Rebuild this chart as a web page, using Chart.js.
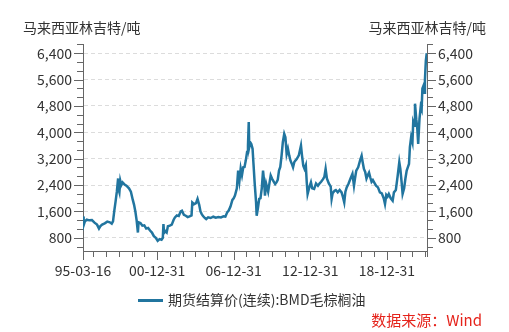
<!DOCTYPE html>
<html>
<head>
<meta charset="utf-8">
<script src="https://cdn.jsdelivr.net/npm/chart.js@4.4.1/dist/chart.umd.min.js"></script>
<style>
  html, body { margin: 0; padding: 0; background: #fff; }
  #wrap { width: 509px; height: 332px; }
</style>
</head>
<body>
<div id="wrap"><canvas id="myChart" width="509" height="332"></canvas></div>
<script>
// thời gian (năm thập phân) và giá thanh toán BMD
var thoiGian = [
  1995.20, 1995.25, 1995.35, 1995.50, 1995.70, 1995.90,
  1996.10, 1996.30, 1996.45, 1996.55, 1996.70, 1996.90,
  1997.10, 1997.30, 1997.45, 1997.55, 1997.65, 1997.75, 1997.85, 1997.95,
  1998.00, 1998.05, 1998.12, 1998.20, 1998.30, 1998.45, 1998.60, 1998.80, 1998.95,
  1999.10, 1999.20, 1999.30, 1999.40, 1999.50, 1999.55, 1999.70, 1999.85,
  2000.00, 2000.15, 2000.30, 2000.45, 2000.60, 2000.75, 2000.90,
  2001.05, 2001.20, 2001.35, 2001.45, 2001.50, 2001.55, 2001.65, 2001.75, 2001.85,
  2002.00, 2002.15, 2002.30, 2002.40, 2002.55, 2002.70, 2002.85, 2002.95,
  2003.10, 2003.25, 2003.40, 2003.55, 2003.70, 2003.76, 2003.90,
  2004.05, 2004.17, 2004.30, 2004.40, 2004.50, 2004.60, 2004.75, 2004.85,
  2005.00, 2005.20, 2005.40, 2005.60, 2005.80,
  2006.00, 2006.20, 2006.35, 2006.50, 2006.60, 2006.75, 2006.90,
  2007.00, 2007.10, 2007.25, 2007.35, 2007.45, 2007.55, 2007.65, 2007.75, 2007.85, 2007.95,
  2008.05, 2008.12, 2008.18, 2008.22, 2008.30, 2008.38, 2008.48, 2008.55, 2008.65, 2008.75, 2008.80, 2008.90,
  2009.00, 2009.10, 2009.20, 2009.30, 2009.38, 2009.45, 2009.55, 2009.70, 2009.80, 2009.90,
  2010.00, 2010.10, 2010.25, 2010.35, 2010.45, 2010.55, 2010.65, 2010.75, 2010.85, 2010.96,
  2011.05, 2011.15, 2011.25, 2011.35, 2011.45, 2011.55, 2011.65, 2011.75, 2011.85, 2011.95,
  2012.10, 2012.27, 2012.35, 2012.45, 2012.55, 2012.65, 2012.72, 2012.79, 2012.90,
  2013.05, 2013.15, 2013.30, 2013.45, 2013.60, 2013.75, 2013.85,
  2014.00, 2014.10, 2014.20, 2014.30, 2014.45, 2014.60, 2014.67, 2014.75, 2014.90,
  2015.00, 2015.15, 2015.30, 2015.45, 2015.55, 2015.66, 2015.75, 2015.85,
  2016.00, 2016.15, 2016.30, 2016.42, 2016.50, 2016.60, 2016.75, 2016.90,
  2017.02, 2017.10, 2017.20, 2017.30, 2017.40, 2017.50, 2017.60, 2017.70, 2017.80, 2017.90,
  2018.00, 2018.15, 2018.30, 2018.45, 2018.60, 2018.75, 2018.85, 2018.95,
  2019.05, 2019.15, 2019.30, 2019.45, 2019.55, 2019.70, 2019.85, 2019.97,
  2020.05, 2020.15, 2020.23, 2020.35, 2020.45, 2020.55, 2020.65, 2020.73, 2020.80, 2020.90,
  2021.00, 2021.06, 2021.15, 2021.20, 2021.30, 2021.38, 2021.45, 2021.55, 2021.65, 2021.72, 2021.78, 2021.85, 2021.92, 2021.98,
  2022.05, 2022.12
];
var giaBMD = [
  1450, 1180, 1300, 1350, 1330, 1340,
  1260, 1200, 1080, 1150, 1200, 1240,
  1290, 1270, 1230, 1300, 1620, 1900, 2200, 2600,
  2250, 2180, 2530, 2400, 2480, 2420, 2380, 2300, 2200,
  1950, 1800, 1600, 1330, 960, 1270, 1250, 1170,
  1180, 1080, 1100, 1020, 960, 850, 800,
  710, 760, 740, 800, 1220, 950, 1000, 960, 1150,
  1170, 1200, 1350, 1420, 1480, 1460, 1600, 1620,
  1500, 1470, 1430, 1450, 1480, 1870, 1820,
  1850, 1980, 1800, 1600, 1520, 1460, 1400, 1370,
  1420, 1400, 1440, 1410, 1430,
  1420, 1450, 1440, 1580, 1620, 1750, 1950,
  2000, 2080, 2300, 2840, 2530, 2900, 2700, 2940, 2950, 3150,
  3400, 3600, 4310, 3550, 3700, 3650, 3500, 3050, 2430, 1900, 1470, 1700,
  1980, 2000, 2300, 2840, 2530, 2080, 2430, 2200, 2450, 2690,
  2600, 2530, 2430, 2480, 2560, 2840, 2950, 3290, 3700, 3955,
  3850, 3345, 3500, 3300, 3140, 3050, 2940, 3100, 3150, 3195,
  3300, 3600, 3300, 2990, 2890, 3000, 2500, 2130, 2300,
  2480, 2300, 2280, 2450, 2380, 2460, 2500,
  2580, 2650, 2890, 2600, 2450, 2350, 1980, 2150, 2230,
  2250, 2180, 2250, 2180, 2050, 1875, 2200, 2330,
  2450, 2600, 2740, 2380, 2600, 2840, 2940, 3150,
  3290, 3100, 2890, 2800, 2600, 2700, 2780, 2630, 2500, 2550,
  2480, 2380, 2330, 2180, 2150, 2000, 1825, 2100,
  2050, 2130, 2000, 1925, 2180, 2250, 2700, 3095,
  2900, 2500, 2130, 2300, 2600, 2840, 2950, 3040, 3550, 3855,
  3700, 4310, 4200, 4870, 4400, 4110, 3650, 4400, 4780, 4700, 5330, 5400, 5200, 5600,
  6180, 6400
];

var viTriNhan = [1995.2, 2001.0, 2007.0, 2013.0, 2019.0];
var nhanTrucX = ['95-03-16', '00-12-31', '06-12-31', '12-12-31', '18-12-31'];
var mocTrucY = [800, 1600, 2400, 3200, 4000, 4800, 5600, 6400];
var donVi = '马来西亚林吉特/吨';
var tenChuoi = '期货结算价(连续):BMD毛棕榈油';
var nguon = '数据来源：Wind';

var FONT = '"Noto Sans CJK SC", "Noto Sans", sans-serif';
var MAU_DUONG = '#21759f';
var MAU_TRUC = '#666';

// vạch chia phụ: mỗi năm trên trục X, 1/3 khoảng trên trục Y
function tickNam() {
  var arr = [1995.2];
  for (var y = 1996; y <= 2022; y++) arr.push(y);
  arr.push(2022.14);
  return arr;
}
function tickGia() {
  var arr = [];
  for (var i = 2; i <= 25; i++) arr.push(i * 800 / 3);
  return arr;
}
function laMoc(v) {
  return mocTrucY.some(function (m) { return Math.abs(m - v) < 1; });
}
function laNhanX(v) {
  return viTriNhan.findIndex(function (m) { return Math.abs(m - v) < 0.01; });
}

var trucY = function (pos) {
  return {
    type: 'linear',
    position: pos,
    min: 400,
    max: 6680,
    afterBuildTicks: function (scale) {
      scale.ticks = tickGia().map(function (v) { return { value: v }; });
    },
    afterFit: function (scale) { scale.width = pos === 'left' ? 83 : 82; },
    grid: {
      drawOnChartArea: pos === 'left',
      drawTicks: false,
      color: function (ctx) { return ctx.tick && laMoc(ctx.tick.value) ? '#dcdcdc' : 'rgba(0,0,0,0)'; },
      lineWidth: 1
    },
    border: { display: true, color: MAU_TRUC, width: 1, dash: [4, 3] },
    ticks: {
      padding: 11,
      color: '#333',
      font: { family: FONT, size: 14 },
      autoSkip: false,
      callback: function (v) { return laMoc(v) ? Math.round(v).toLocaleString('en-US') : ''; }
    }
  };
};

var trangTri = {
  id: 'trangTri',
  afterDraw: function (chart) {
    var c = chart.ctx, a = chart.chartArea;
    var sx = chart.scales.x, yl = chart.scales.y, yr = chart.scales.y2;
    c.save();
    c.strokeStyle = MAU_TRUC;
    c.lineWidth = 1;
    c.beginPath();
    // trục trái / phải
    tickGia().forEach(function (v) {
      var py = Math.round(yl.getPixelForValue(v)) + 0.5;
      var len = laMoc(v) ? 9 : 6;
      c.moveTo(a.left - len, py); c.lineTo(a.left, py);
      c.moveTo(a.right, py); c.lineTo(a.right + len, py);
    });
    // trục X
    tickNam().forEach(function (v) {
      var px = Math.round(sx.getPixelForValue(v)) + 0.5;
      var len = laNhanX(v) >= 0 ? 9 : 6;
      c.moveTo(px, a.bottom); c.lineTo(px, a.bottom + len);
    });
    c.stroke();

    // đơn vị hai trục
    c.fillStyle = '#333';
    c.font = '14px ' + FONT;
    c.textBaseline = 'middle';
    c.textAlign = 'left';
    c.fillText(donVi, 23, 28);
    c.textAlign = 'right';
    c.fillText(donVi, 486, 28);

    // chú giải
    c.strokeStyle = MAU_DUONG;
    c.lineWidth = 3;
    c.beginPath();
    c.moveTo(138, 300.5); c.lineTo(163, 300.5);
    c.stroke();
    c.fillStyle = '#333';
    c.textAlign = 'left';
    c.fillText(tenChuoi, 168, 300);

    // nguồn dữ liệu
    c.fillStyle = '#e5231b';
    c.font = '15px ' + FONT;
    c.textAlign = 'right';
    c.fillText(nguon, 482, 320);
    c.restore();
  }
};

var ctx = document.getElementById('myChart').getContext('2d');
var myChart = new Chart(ctx, {
  type: 'line',
  data: {
    datasets: [{
      label: tenChuoi,
      data: thoiGian.map(function (t, i) { return { x: t, y: giaBMD[i] }; }),
      borderColor: MAU_DUONG,
      borderWidth: 2.5,
      pointRadius: 0,
      tension: 0,
      fill: false,
      yAxisID: 'y'
    }]
  },
  options: {
    responsive: false,
    animation: false,
    devicePixelRatio: 1,
    layout: { padding: { top: 44, left: 0, right: 0, bottom: 0 } },
    plugins: {
      legend: { display: false },
      title: { display: false },
      tooltip: { enabled: false }
    },
    scales: {
      x: {
        type: 'linear',
        min: 1995.2,
        max: 2022.14,
        afterBuildTicks: function (scale) {
          scale.ticks = tickNam().map(function (v) { return { value: v }; });
        },
        afterFit: function (scale) { scale.height = 81; },
        grid: { drawOnChartArea: false, drawTicks: false },
        border: { display: true, color: MAU_TRUC, width: 1 },
        ticks: {
          padding: 11,
          maxRotation: 0,
          autoSkip: false,
          color: '#333',
          font: { family: FONT, size: 14 },
          callback: function (v) {
            var k = laNhanX(v);
            return k >= 0 ? nhanTrucX[k] : '';
          }
        }
      },
      y: trucY('left'),
      y2: trucY('right')
    }
  },
  plugins: [trangTri]
});
</script>
</body>
</html>
